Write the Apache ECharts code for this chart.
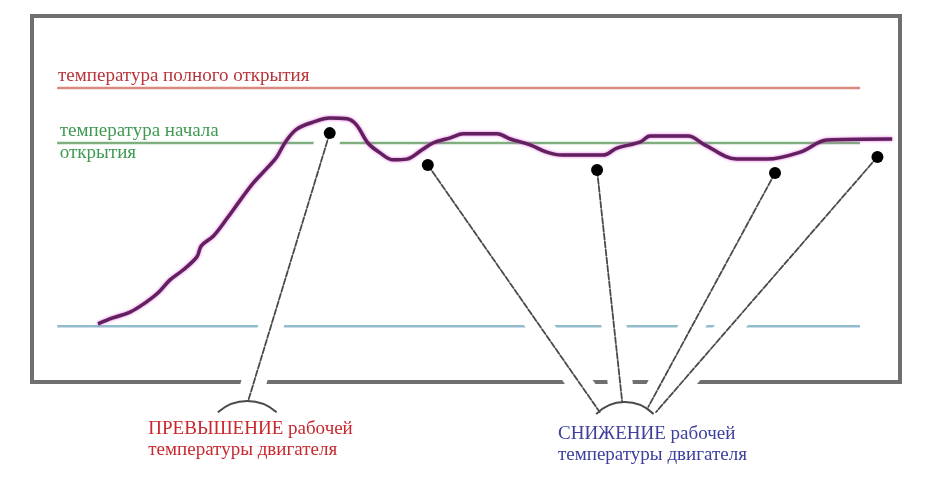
<!DOCTYPE html>
<html>
<head>
<meta charset="utf-8">
<script src="https://cdn.jsdelivr.net/npm/echarts@6/dist/echarts.min.js"></script>
<style>
html,body{margin:0;padding:0;background:#fff;}
#chart{width:929px;height:483px;}
</style>
</head>
<body>
<div id="chart"></div>
<script>
// Engine temperature curve (time units 0..100, temperature units 0..100)
const curveX = [7.6, 9.3, 11.3, 13.2, 14.5, 15.9, 17.4, 19.0, 19.5, 20.9, 22.5, 24.0, 25.5, 27.1, 28.2, 29.2, 30.5, 32.4, 34.3, 36.3, 37.4, 38.7, 40.1, 41.6, 43.2, 44.9, 46.2, 48.2, 49.7, 53.6, 55.1, 57.4, 59.3, 61.1, 65.8, 67.4, 70.1, 71.2, 75.6, 77.5, 81.2, 84.7, 88.5, 91.6, 99.1];
const curveY = [15.9, 17.5, 19.1, 21.9, 24.3, 27.9, 30.6, 34.2, 37.2, 39.9, 44.8, 49.7, 54.4, 58.5, 61.5, 65.6, 69.1, 71.0, 72.1, 71.9, 70.2, 65.3, 62.6, 60.7, 60.9, 63.4, 65.3, 66.7, 67.8, 67.8, 66.4, 64.8, 62.8, 62.0, 62.0, 63.9, 65.6, 67.2, 67.2, 64.8, 60.9, 60.9, 62.8, 66.1, 66.4];

// Reference levels
const levelNames = ['температура полного открытия', 'температура начала открытия', 'нормальная температура'];
const levelValues = [80.3, 65.3, 15.2];
const levelStart = 2.9;
const levelEnd = 95.4;
const levelColors = ['#d88a80', '#7fae7f', '#92bccb'];

// Marked points on the curve
const dotX = [34.3, 45.6, 65.1, 85.6, 97.4];
const dotY = [68.0, 59.3, 57.9, 57.1, 61.5];
// Leader line ends (on the callout arcs)
const leaderEndX = [24.9, 65.4, 68.0, 71.0, 71.9];
const leaderEndY = [-5.2, -8.2, -5.5, -6.8, -8.2];
// Callout arcs
const arcX = [24.8, 68.3];
const arcY = [-17.2, -16.4];
const arcR = [44, 40];
const arcSpan = [0.73, 0.8];

// Text labels
const labelTexts = ['температура полного открытия', 'температура начала', 'открытия', 'ПРЕВЫШЕНИЕ рабочей', 'температуры двигателя', 'СНИЖЕНИЕ рабочей', 'температуры двигателя'];
const labelX = [3.0, 3.2, 3.2, 13.4, 13.4, 60.6, 60.6];
const labelY = [83.5, 68.5, 62.6, -12.9, -18.5, -14.2, -19.9];
const labelColors = ['#b8343a', '#3f9a52', '#3f9a52', '#c9282e', '#c9282e', '#3c3f9c', '#3c3f9c'];

const FONT = "19px 'Liberation Serif', 'Times New Roman', serif";

const curveData = curveX.map((x, i) => [x, curveY[i]]);
const leaderData = dotX.map((x, i) => [x, dotY[i], leaderEndX[i], leaderEndY[i]]);
const arcData = arcX.map((x, i) => [x, arcY[i], i]);
const labelData = labelX.map((x, i) => [x, labelY[i], i]);

const levelSeries = levelValues.map((v, i) => ({
  type: 'line',
  name: levelNames[i],
  data: [[levelStart, v], [levelEnd, v]],
  symbol: 'none',
  z: 1,
  lineStyle: { color: levelColors[i], width: 2.5 },
  silent: true,
  animation: false
}));

function leaderRender(width, color, dash) {
  return function (params, api) {
    const p1 = api.coord([api.value(0), api.value(1)]);
    const p2 = api.coord([api.value(2), api.value(3)]);
    return {
      type: 'line',
      shape: { x1: p1[0], y1: p1[1], x2: p2[0], y2: p2[1] },
      style: { stroke: color, lineWidth: width, lineCap: 'round', lineDash: dash }
    };
  };
}

const option = {
  animation: false,
  backgroundColor: '#ffffff',
  grid: {
    show: true, left: 32, top: 16, right: 29, bottom: 101,
    borderColor: '#6f6f6f', borderWidth: 4, backgroundColor: '#ffffff'
  },
  xAxis: { type: 'value', min: 0, max: 100, show: false },
  yAxis: { type: 'value', min: 0, max: 100, show: false },
  series: [
    ...levelSeries,
    {
      type: 'custom', name: 'halo', data: leaderData, z: 2, clip: false, silent: true,
      renderItem: leaderRender(25, '#ffffff', null)
    },
    {
      type: 'custom', name: 'leaders', data: leaderData, z: 3, clip: false, silent: true,
      renderItem: leaderRender(1.8, '#4a4a4a', [6, 2])
    },
    {
      type: 'custom', name: 'arcs', data: arcData, z: 3, clip: false, silent: true,
      renderItem: function (params, api) {
        const c = api.coord([api.value(0), api.value(1)]);
        const i = api.value(2);
        return {
          type: 'arc',
          shape: { cx: c[0], cy: c[1], r: arcR[i], startAngle: -Math.PI / 2 - arcSpan[i], endAngle: -Math.PI / 2 + arcSpan[i], clockwise: true },
          style: { stroke: '#4a4a4a', lineWidth: 2, fill: null }
        };
      }
    },
    {
      type: 'line', name: 'температура двигателя', data: curveData, symbol: 'none', z: 4,
      smooth: 0.35,
      lineStyle: { color: '#62205f', width: 3.5, shadowColor: 'rgba(220,90,220,0.9)', shadowBlur: 3 }
    },
    {
      type: 'scatter', name: 'точки', data: dotX.map((x, i) => [x, dotY[i]]), z: 5,
      symbol: 'circle', symbolSize: 12, itemStyle: { color: '#000000', opacity: 1 }
    },
    {
      type: 'custom', name: 'labels', data: labelData, z: 6, clip: false, silent: true,
      renderItem: function (params, api) {
        const c = api.coord([api.value(0), api.value(1)]);
        const i = api.value(2);
        return {
          type: 'text',
          x: c[0], y: c[1],
          style: { legacy: false, text: labelTexts[i], fill: labelColors[i], font: FONT, align: 'left', verticalAlign: 'middle' }
        };
      }
    }
  ]
};

const chart = echarts.init(document.getElementById('chart'), null, { renderer: 'canvas' });
chart.setOption(option);
</script>
</body>
</html>
